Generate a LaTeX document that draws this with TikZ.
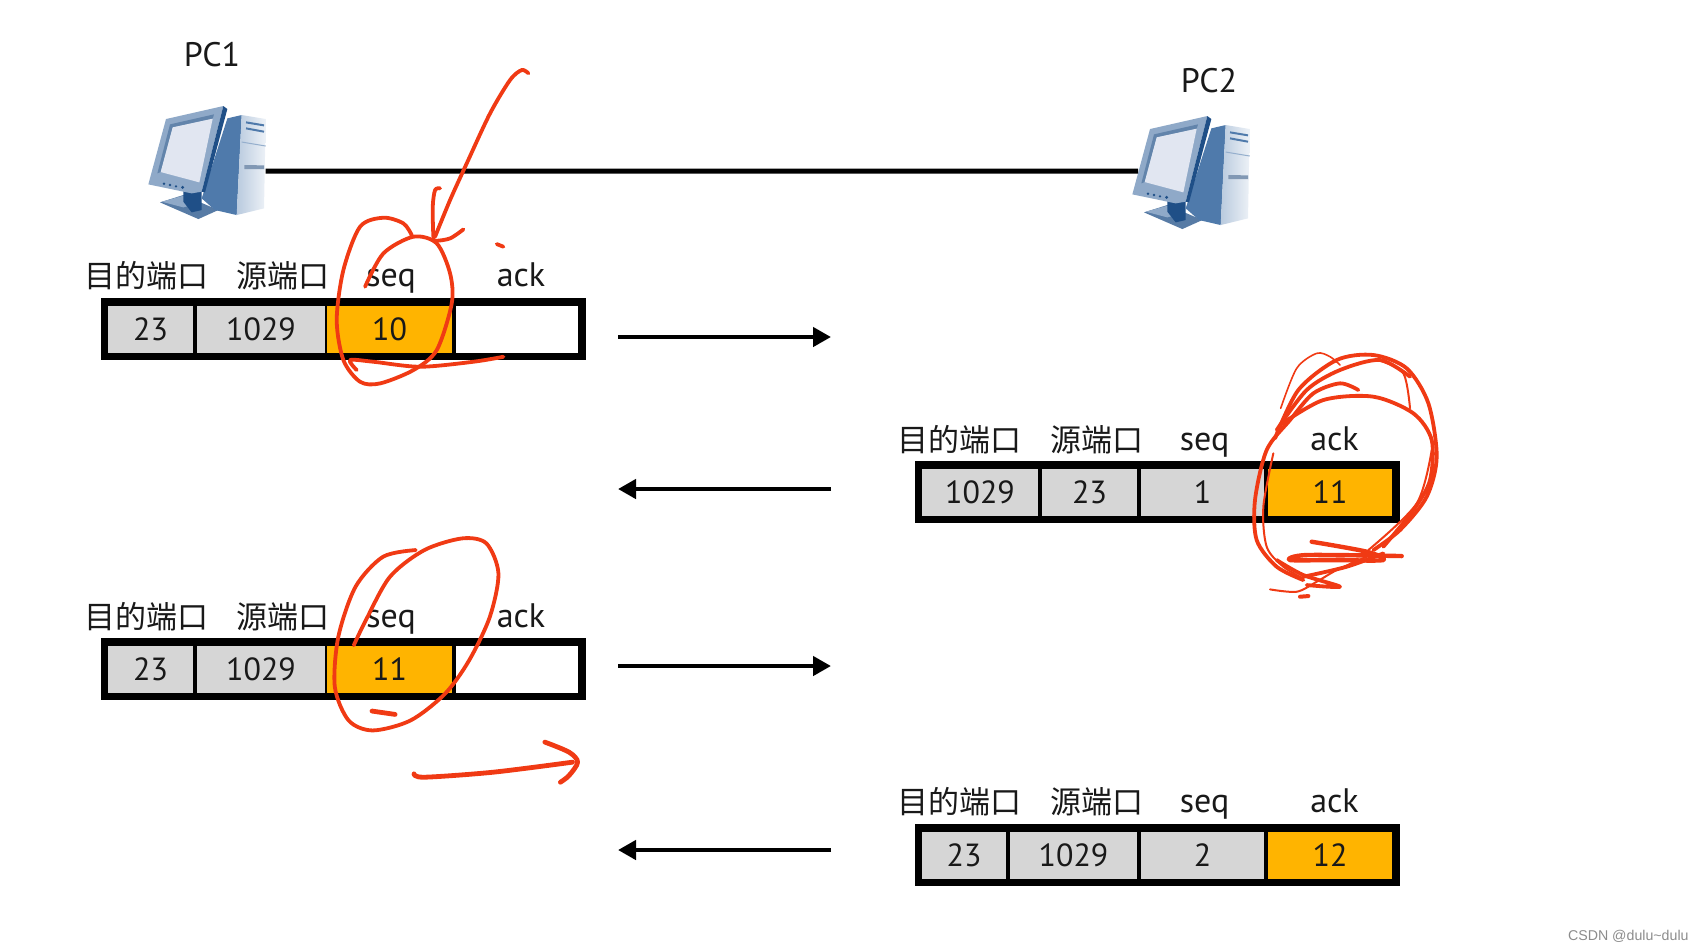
\documentclass[tikz,border=0pt]{standalone}
\usepackage{fontspec}
\setmainfont{PT Sans}
\newfontfamily\cjk{Noto Sans CJK SC}
\newfontfamily\wmfont{Liberation Sans}
\usetikzlibrary{arrows.meta}
\definecolor{cellgrey}{HTML}{D6D6D6}
\definecolor{cellorange}{HTML}{FFB400}
\definecolor{redink}{HTML}{F03A14}
\definecolor{pcdark}{HTML}{1F4F87}
\definecolor{pcmid}{HTML}{4F7AAB}
\definecolor{pcbezel}{HTML}{8FA9C8}
\definecolor{pcscreen}{HTML}{E1E6F1}
\definecolor{pcfront}{HTML}{D3DEEB}
\tikzset{
	pcicon/.pic={
		\begin{scope}[x=0.1667pt,y=-0.1667pt]
			% stand and tower
			\fill[pcdark!75] (120,547) -- (190,525) -- (295,570) -- (235,597) -- cycle;
			\fill[pcbezel] (125,545) -- (190,527) -- (240,548) -- (190,562) -- cycle;
			\fill[pcdark] (190,510) -- (245,510) -- (245,570) -- (215,577) -- (190,545) -- cycle;
			\fill[pcmid] (322,295) -- (365,285) -- (350,585) -- (285,570) -- (245,535) -- cycle;
			\shade[left color=pcfront!80!pcmid, right color=pcfront!40] (365,285) -- (437,297) -- (432,565) -- (350,585) -- cycle;
			\draw[pcmid, line width=1pt] (378,307) -- (432,316) (378,325) -- (432,335);
			\draw[pcmid!60, line width=0.5pt] (365,366) -- (437,378);
			\fill[pcbezel!90!black] (373,435) -- (432,436) -- (432,447) -- (373,447) -- cycle;
			% monitor
			\fill[pcbezel] (85,493) -- (138,297) -- (310,258) -- (245,515) -- (215,520) -- cycle;
			\fill[pcdark] (310,258) -- (322,267) -- (255,517) -- (245,515) -- cycle;
			\fill[pcdark!70] (112,460) -- (150,313) -- (282,283) -- (278,296) -- (158,322) -- (122,456) -- cycle;
			\fill[pcscreen] (122,456) -- (158,322) -- (278,296) -- (238,487) -- cycle;
			\fill[pcdark] (132,491) circle (4) (150,495) circle (4) (168,499) circle (4) (188,502) circle (5);
			\coordinate (-e) at (437,453);
			\coordinate (-w) at (102,423);
		\end{scope}
	},
	cell/.style={minimum height=23.5pt, inner sep=0pt, text=black!90, font=\fontsize{16}{18}\selectfont},
	frm/.style={fill=black, inner sep=0pt, minimum height=31pt},
	hdr/.style={anchor=base, inner sep=0pt, text=black!90, font=\fontsize{17}{18}\selectfont},
	flow/.style={line width=2.2pt, -{Triangle[length=9pt,width=9.5pt]}},
	redpen/.style={draw=redink, line width=1.9pt, line cap=round, line join=round},
	zoomed/.style={x=0.1667pt,y=-0.1667pt}
}
\begin{document}
\begin{tikzpicture}[x=0.5pt,y=-0.5pt]
	\useasboundingbox (0,0) rectangle (1704,950);
	\pic (pcleft) at (120,20) {pcicon};
	\pic (pcright) at (1104,30) {pcicon};
	\draw[line width=2.5pt] (pcleft-e) -- (pcright-w);
	\node[hdr] (pcone) at (212,66) {PC1};
	\node[hdr] (pctwo) at (1209,92) {PC2};
	% the four segments
	\foreach \r/\cx/\cy in {1/343.5/329, 2/1157/492, 3/343.5/669, 4/1157/855} {
		\node[frm, minimum width=242.5pt] (frame\r) at (\cx,\cy) {};
	}
	\foreach \nm/\cx/\cy/\wid/\val/\col in {
		aa/150.5/329/42.5/23/cellgrey, ab/261/329/64/1029/cellgrey, ac/389.5/329/62.5/10/cellorange, ad/517/329/61/{}/white,
		ba/980/492/58/1029/cellgrey, bb/1089.5/492/47.5/23/cellgrey, bc/1202.5/492/61.5/1/cellgrey, bd/1330/492/62/11/cellorange,
		ca/150.5/669/42.5/23/cellgrey, cb/261/669/64/1029/cellgrey, cc/389.5/669/62.5/11/cellorange, cd/517/669/61/{}/white,
		da/964/855/42/23/cellgrey, db/1073.5/855/63.5/1029/cellgrey, dc/1202.5/855/61.5/2/cellgrey, dd/1330/855/62/12/cellorange} {
		\node[cell, fill=\col, minimum width=\wid pt] (\nm) at (\cx,\cy) {\val};
	}
	% header labels
	\foreach \r/\dx/\yb in {1/0/286, 2/813.5/450, 3/0/627, 4/813.5/812} {
		\node[hdr, font=\fontsize{15.5}{18}\selectfont] (dport\r) at ({146+\dx},\yb+1) {\cjk 目的端口};
		\node[hdr, font=\fontsize{15.5}{18}\selectfont] (sport\r) at ({283+\dx},\yb+1) {\cjk 源端口};
		\node[hdr] (seq\r) at ({391+\dx},\yb) {seq};
		\node[hdr] (ack\r) at ({521+\dx},\yb) {ack};
	}
	% arrows between the hosts
	\foreach \n/\ya/\xa/\xb in {1/337/618/831, 2/489/831/618, 3/666/618/831, 4/850/831/618} {
		\coordinate (from\n) at (\xa,\ya);
		\coordinate (to\n) at (\xb,\ya);
		\draw[flow] (from\n) -- (to\n);
	}
	% red pen, first segment
	\begin{scope}[shift={(120,20)},zoomed]
		\draw[redpen] plot[smooth] coordinates {(1225,160) (1205,150) (1170,180) (1110,280) (1040,430) (990,540) (945,650)};
		\draw[redpen] plot[smooth] coordinates {(960,505) (945,510) (938,560) (940,650) (945,662) (990,655) (1030,628)};
		\draw[redpen] (1130,672) -- (1150,680);
		\draw[redpen] plot[smooth] coordinates {(735,800) (790,700) (880,650) (950,670) (990,760) (995,850) (950,990) (880,1050) (780,1090) (720,1085) (670,1020) (650,900) (670,750) (720,620) (790,593) (850,610) (875,645)};
		\draw[redpen] plot[smooth] coordinates {(710,1050) (690,1020) (760,1025) (900,1040) (1060,1025) (1150,1010)};
	\end{scope}
	% red pen, second segment
	\begin{scope}[shift={(1240,340)},zoomed]
		\draw[redpen, line width=0.8pt] plot[smooth] coordinates {(122,205) (170,85) (230,40) (270,50) (300,75)};
		\draw[redpen] plot[smooth] coordinates {(105,295) (175,150) (290,60) (400,45) (500,85) (565,190) (590,350) (560,470) (480,570) (400,630)};
		\draw[redpen] plot[smooth] coordinates {(110,270) (200,150) (300,90) (420,60) (510,110)};
		\draw[redpen] plot[smooth] coordinates {(355,150) (300,130) (220,160) (150,240) (80,330) (45,480) (50,600) (110,680) (190,720)};
		\draw[redpen] plot[smooth] coordinates {(120,255) (250,180) (400,170) (520,220) (575,300) (570,420) (520,510) (430,620)};
		\draw[redpen, line width=1pt] plot[smooth] coordinates {(100,340) (70,500) (80,620) (130,680) (190,715)};
		\draw[redpen, line width=1pt] plot[smooth] coordinates {(420,62) (490,100) (510,205)};
		\draw[redpen, line width=1pt] plot[smooth] coordinates {(575,330) (530,490) (385,630)};
		\draw[redpen, line width=2.2pt] plot[smooth] coordinates {(215,605) (380,635) (430,660) (280,660) (150,660) (200,645) (485,648)};
		\draw[redpen] plot[smooth] coordinates {(110,660) (190,705) (300,740) (200,735)};
		\draw[redpen] plot[smooth] coordinates {(190,710) (320,680) (430,640)};
		\draw[redpen, line width=1pt] plot[smooth] coordinates {(90,748) (170,755) (230,725) (290,690) (380,650)};
		\draw[redpen, line width=2pt] (180,770) -- (205,768);
	\end{scope}
	% red pen, third segment
	\begin{scope}[shift={(80,520)},x=0.1722pt,y=-0.167pt]
		\draw[redpen] plot[smooth] coordinates {(795,375) (830,300) (900,170) (1000,90) (1110,55) (1180,70) (1215,160) (1190,290) (1130,420) (1060,520) (960,600) (850,630) (780,600) (740,500) (750,350) (800,200) (880,110) (975,90)};
		\draw[redpen, line width=2.4pt] (848,572) -- (915,582);
		\draw[redpen, line width=2.4pt] plot[smooth] coordinates {(970,760) (1000,770) (1200,755) (1430,725)};
		\draw[redpen, line width=2.4pt] plot[smooth] coordinates {(1350,665) (1420,695) (1445,725) (1420,765) (1395,785)};
	\end{scope}
	\node[anchor=east, inner sep=0pt, text=black!45, font=\wmfont\fontsize{7.1}{9}\selectfont] (mark) at (1689,936) {CSDN @dulu\textasciitilde dulu};
\end{tikzpicture}
\end{document}
